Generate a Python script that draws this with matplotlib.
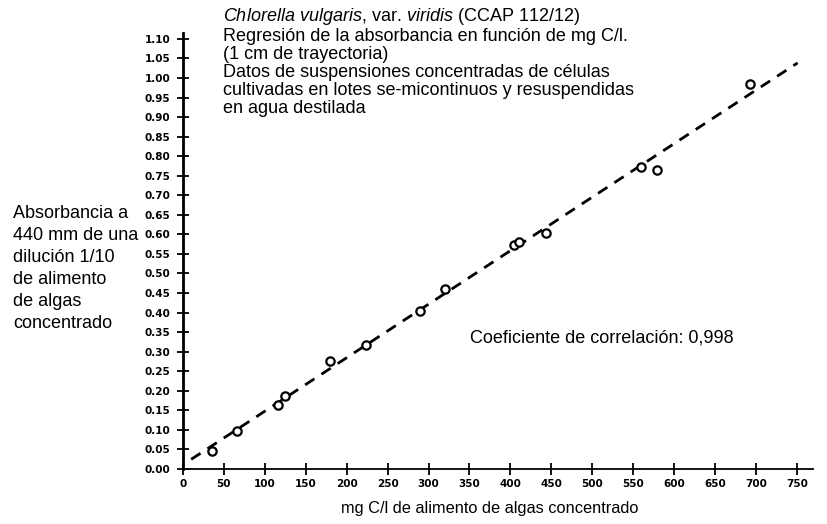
import numpy as np
import matplotlib
matplotlib.use("Agg")
import matplotlib.pyplot as plt

# Measured concentrations (mg C/l) and absorbance at 440 nm (1/10 dilution)
carbon_mg_l = [35, 66, 116, 125, 179, 224, 290, 320, 404, 410, 444, 560, 579, 693]
absorbance = [0.047, 0.098, 0.164, 0.187, 0.277, 0.317, 0.405, 0.460,
              0.573, 0.581, 0.604, 0.773, 0.765, 0.985]

x_ticks = list(range(0, 751, 50))
y_ticks = [round(0.05 * i, 2) for i in range(0, 23)]
y_ticklabels = [f"{v:.2f}" for v in y_ticks]

title_lines = [
    r"$\it{Chlorella\ vulgaris}$, var. $\it{viridis}$ (CCAP 112/12)",
    "Regresión de la absorbancia en función de mg C/l.",
    "(1 cm de trayectoria)",
    "Datos de suspensiones concentradas de células",
    "cultivadas en lotes se-micontinuos y resuspendidas",
    "en agua destilada",
]
ylabel_lines = ["Absorbancia a", "440 mm de una", "dilución 1/10",
                "de alimento", "de algas", "concentrado"]
xlabel_text = "mg C/l de alimento de algas concentrado"
corr_text = "Coeficiente de correlación: 0,998"

plt.rcParams["font.family"] = ["Liberation Sans", "DejaVu Sans"]
plt.rcParams["mathtext.fontset"] = "custom"
plt.rcParams["mathtext.it"] = "Liberation Sans:italic"
plt.rcParams["mathtext.rm"] = "Liberation Sans"

fig = plt.figure(figsize=(8.27, 5.24), dpi=100)
ax = fig.add_axes([0.2213, 0.105, 0.762, 0.832])

# regression line over the sampled range
slope, intercept = np.polyfit(carbon_mg_l, absorbance, 1)
line_x = np.array([10.0, 751.0])
ax.plot(line_x, intercept + slope * line_x, color="black", lw=2,
        linestyle=(0, (4, 3)), solid_capstyle="butt")

ax.plot(carbon_mg_l, absorbance, linestyle="none", marker="o",
        markersize=6, markerfacecolor="white", markeredgecolor="black",
        markeredgewidth=1.6)

ax.set_xlim(0, 770)
ax.set_ylim(0, 1.115)
ax.set_xticks(x_ticks)
ax.set_xticklabels([str(v) for v in x_ticks], fontfamily="DejaVu Sans",
                   fontweight="heavy", fontsize=7.5)
ax.set_yticks(y_ticks)
ax.set_yticklabels(y_ticklabels, fontfamily="DejaVu Sans",
                   fontweight="heavy", fontsize=7.5)
ax.tick_params(axis="both", direction="inout", length=8, width=1.3,
               colors="black", pad=3)
ax.tick_params(axis="y", pad=5)

for side in ("top", "right"):
    ax.spines[side].set_visible(False)
ax.spines["left"].set_linewidth(2)
ax.spines["bottom"].set_linewidth(1.3)

fig.text(223 / 827, 1 - 6 / 524, "\n".join(title_lines), fontsize=13,
         va="top", ha="left", linespacing=1.08)
fig.text(13 / 827, 1 - 205 / 524, "\n".join(ylabel_lines), fontsize=13,
         va="top", ha="left", linespacing=1.39)
fig.text(470 / 827, 1 - 338 / 524, corr_text, fontsize=13,
         va="center", ha="left")
fig.text(490 / 827, 1 - 508 / 524, xlabel_text, fontsize=11.8,
         va="center", ha="center")

fig.savefig("out.png", dpi=100, facecolor="white")
